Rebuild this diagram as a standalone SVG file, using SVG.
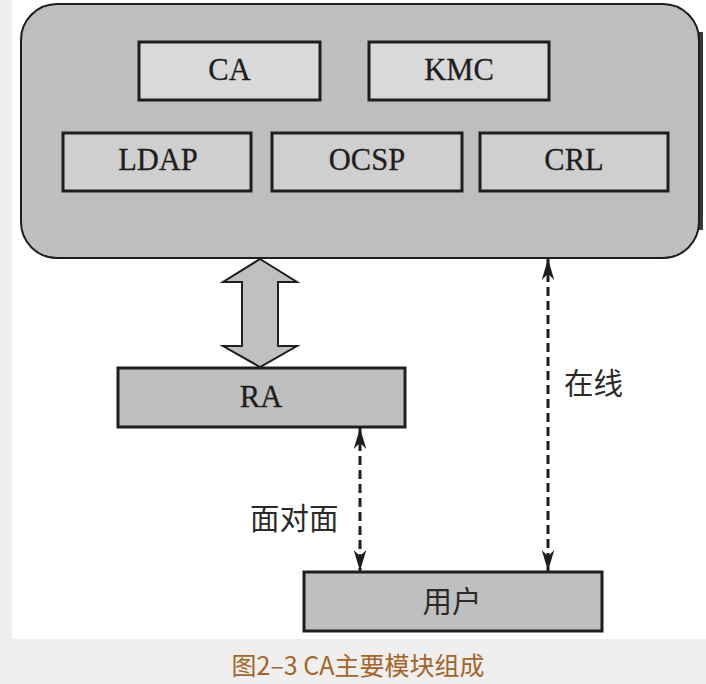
<svg xmlns="http://www.w3.org/2000/svg" width="706" height="684" viewBox="0 0 706 684">
<style>
.box{stroke:#1e1e1e;stroke-width:3}
.t{font-family:"Liberation Serif","Times New Roman",serif;font-size:30.5px;fill:#1e1e1e;stroke:#1e1e1e;stroke-width:0.3;text-anchor:middle}
.cj{font-family:"Noto Sans CJK SC","Noto Sans",sans-serif;font-size:29.5px;fill:#2a2a2a}
.cap{font-family:"Noto Sans CJK SC","Noto Sans",sans-serif;font-size:25px;fill:#a5652a;text-anchor:middle}
.dash{fill:none;stroke:#1e1e1e;stroke-width:3;stroke-dasharray:9 5}
</style>
<defs>
<marker id="ah" viewBox="0 0 20 12" refX="20" refY="6" markerWidth="21" markerHeight="12.6" markerUnits="userSpaceOnUse" orient="auto-start-reverse">
<path d="M0,0 L20,6 L0,12 L6,6 Z" fill="#1e1e1e"/>
</marker>
</defs>
<rect x="0" y="0" width="706" height="684" fill="#efefef"/>
<rect x="12" y="0" width="694" height="639" fill="#ffffff"/>
<g id="ca-system">
<rect x="699" y="32" width="4" height="198" fill="#3a3a3a"/>
<rect x="21" y="4" width="678" height="254" rx="36" ry="36" fill="#bebebe" stroke="#1e1e1e" stroke-width="2"/>
</g>
<g id="ca"><rect class="box" x="139" y="42" width="181" height="58" fill="#d9d9d9"/><text class="t" x="229.5" y="80">CA</text></g>
<g id="kmc"><rect class="box" x="369" y="42" width="180" height="58" fill="#d9d9d9"/><text class="t" x="459" y="80">KMC</text></g>
<g id="ldap"><rect class="box" x="63" y="133" width="188" height="58" fill="#cfcfcf"/><text class="t" x="158" y="170">LDAP</text></g>
<g id="ocsp"><rect class="box" x="272" y="133" width="190" height="58" fill="#cfcfcf"/><text class="t" x="367" y="170">OCSP</text></g>
<g id="crl"><rect class="box" x="480" y="133" width="188" height="58" fill="#cfcfcf"/><text class="t" x="574" y="170">CRL</text></g>
<g id="ra"><rect class="box" x="118" y="368" width="287" height="59" fill="#bfbfbf"/><text class="t" x="261" y="407">RA</text></g>
<g id="user"><rect class="box" x="304" y="572" width="298" height="59" fill="#bfbfbf"/><text class="cj" x="452" y="612" text-anchor="middle">用户</text></g>
<g id="connectors">
<polygon points="260,259 297,282 278,282 278,346 297,346 260,367 223,346 242,346 242,282 223,282" fill="#c0c0c0" stroke="#1e1e1e" stroke-width="2" stroke-linejoin="miter"/>
<line class="dash" x1="548" y1="259" x2="548" y2="571" marker-start="url(#ah)" marker-end="url(#ah)"/>
<line class="dash" x1="360" y1="428" x2="360" y2="571" marker-start="url(#ah)" marker-end="url(#ah)"/>
<text class="cj" x="564" y="394">在线</text>
<text class="cj" x="250" y="529">面对面</text>
</g>
<text class="cap" x="358" y="675">图2–3 CA主要模块组成</text>
</svg>
